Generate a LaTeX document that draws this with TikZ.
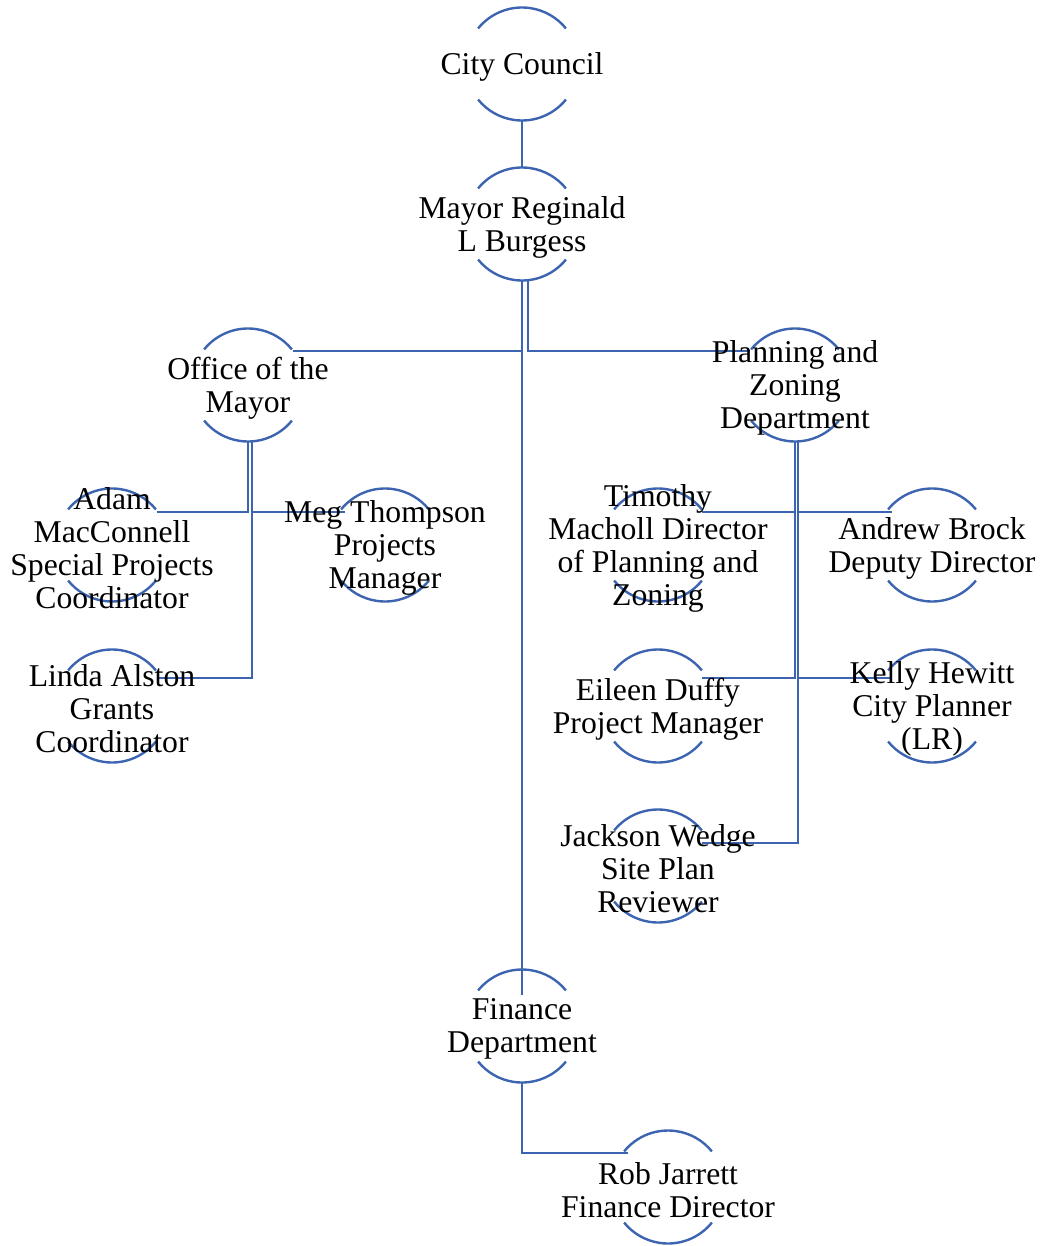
\documentclass[tikz,border=0pt]{standalone}
\usepackage{fontspec}
\setmainfont{Liberation Serif}
\usetikzlibrary{calc,backgrounds}
\definecolor{lineblue}{RGB}{60,100,176}
\begin{document}
\begin{tikzpicture}[x=1pt,y=-1pt,
  person/.style={align=center,inner sep=0pt,yshift=-3pt,font=\fontsize{31.7}{33}\selectfont},
  link/.style={draw=lineblue,line width=2.4pt},
  arcline/.style={draw=lineblue,line width=2.4pt}]
\useasboundingbox (0,0) rectangle (1043,1246);
\node[person] (cc) at (522,64) {City Council};
\node[person] (mayor) at (522,224) {Mayor Reginald\\L Burgess};
\node[person] (office) at (248,385) {Office of the\\Mayor};
\node[person] (planning) at (795,385) {Planning and\\Zoning\\Department};
\node[person] (adam) at (112,545) {Adam\\MacConnell\\Special Projects\\Coordinator};
\node[person] (meg) at (385,545) {Meg Thompson\\Projects\\Manager};
\node[person] (linda) at (112,706) {Linda Alston\\Grants\\Coordinator};
\node[person] (timothy) at (658,545) {Timothy\\Macholl Director\\of Planning and\\Zoning};
\node[person] (andrew) at (932,545) {Andrew Brock\\Deputy Director};
\node[person] (eileen) at (658,706) {Eileen Duffy\\Project Manager};
\node[person] (kelly) at (932,706) {Kelly Hewitt\\City Planner\\(LR)};
\node[person] (jackson) at (658,866) {Jackson Wedge\\Site Plan\\Reviewer};
\node[person] (finance) at (522,1026) {Finance\\Department};
\node[person] (rob) at (668,1187) {Rob Jarrett\\Finance Director};
\begin{scope}[on background layer]
\foreach \n in {cc,mayor,office,planning,adam,meg,linda,timothy,andrew,eileen,kelly,jackson,finance,rob} {
  \draw[arcline] (\n.center) ++(0,-3) ++(219:56.5) arc[start angle=219,end angle=321,radius=56.5];
  \draw[arcline] (\n.center) ++(0,-3) ++(39:56.5) arc[start angle=39,end angle=141,radius=56.5];
}
\draw[link] ($(cc.center)+(0,53.5)$) -- ($(mayor.center)+(0,-59.5)$);
\draw[link] ($(mayor.center)+(0,53.5)$) |- ($(office.center)+(45,-37)$);
\draw[link] ($(mayor.center)+(6,53.5)$) |- ($(planning.center)+(-45,-37)$);
\draw[link] ($(mayor.center)+(0,53.5)$) -- ($(finance.center)+(0,-34)$);
\draw[link] ($(office.center)+(0,53.5)$) |- ($(adam.center)+(45,-36)$);
\draw[link] ($(office.center)+(4,53.5)$) |- ($(meg.center)+(-40,-36)$);
\draw[link] ($(office.center)+(4,53.5)$) |- ($(linda.center)+(45,-31)$);
\draw[link] ($(planning.center)+(0,53.5)$) |- ($(timothy.center)+(44,-36)$);
\draw[link] ($(planning.center)+(3,53.5)$) |- ($(andrew.center)+(-40,-36)$);
\draw[link] ($(planning.center)+(0,53.5)$) |- ($(eileen.center)+(44,-31)$);
\draw[link] ($(planning.center)+(3,53.5)$) |- ($(kelly.center)+(-40,-31)$);
\draw[link] ($(planning.center)+(3,53.5)$) |- ($(jackson.center)+(44,-26)$);
\draw[link] ($(finance.center)+(0,53.5)$) |- ($(rob.center)+(-40,-37)$);
\end{scope}
\end{tikzpicture}
\end{document}
